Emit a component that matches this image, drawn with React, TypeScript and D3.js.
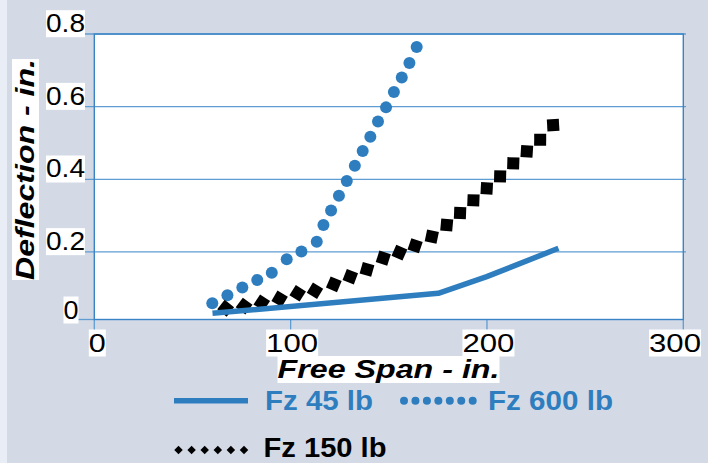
import React, { useEffect, useRef } from "react";
import * as d3 from "d3";

// ---- data ----
const spanTicks = [0, 100, 200, 300];
const deflTicks = [0, 0.2, 0.4, 0.6, 0.8];
const deflTickLabels = ["0", "0.2", "0.4", "0.6", "0.8"];

// Fz 45 lb (solid line)
const fz45Span = [60.2, 175.2, 199.9, 236.4];
const fz45Defl = [0.031, 0.086, 0.132, 0.21];

// Fz 600 lb (round dots)
const fz600Span = [60.1, 67.8, 75.4, 83.0, 90.4, 98.0, 105.5, 113.3, 116.7, 120.6, 124.6, 128.6, 132.7, 136.7, 140.6, 144.5, 148.6, 152.6, 156.6, 160.5, 164.2];
const fz600Defl = [0.059, 0.081, 0.102, 0.123, 0.143, 0.18, 0.201, 0.228, 0.274, 0.314, 0.355, 0.395, 0.437, 0.478, 0.517, 0.559, 0.598, 0.64, 0.68, 0.72, 0.764];

// Fz 150 lb (diamonds)
const fz150Span = [66.9, 76.3, 85.3, 94.4, 103.6, 112.4, 122.0, 130.4, 138.9, 147.2, 155.4, 163.4, 171.9, 179.5, 186.3, 193.1, 199.9, 206.7, 213.4, 220.3, 227.1, 233.7];
const fz150Defl = [0.045, 0.051, 0.06, 0.071, 0.086, 0.093, 0.111, 0.132, 0.152, 0.183, 0.198, 0.217, 0.242, 0.274, 0.307, 0.342, 0.375, 0.408, 0.444, 0.477, 0.509, 0.549];

const legendLabels = ["Fz 45 lb", "Fz 600 lb", "Fz 150 lb"];

const BLUE = "#2e7ebf";
const GRID = "#5f9cd2";
const BG = "#d3dae6";
const FONT = "'Liberation Sans', Arial, Helvetica, sans-serif";

export default function App() {
  const ref = useRef<SVGSVGElement | null>(null);

  useEffect(() => {
    const svg = d3.select(ref.current);
    svg.selectAll("*").remove();

    const W = 708, H = 463;
    const left = 94.3, right = 683.3, top = 34, bottom = 319.5;
    const Y_FLOOR = 0.014;
    const x = d3.scaleLinear().domain([0, 300]).range([left, right]);
    const y = d3.scaleLinear().domain([Y_FLOOR, 0.8]).range([bottom, top]);
    const yPos = (v: number) => (v === 0 ? y(Y_FLOOR) : y(v));

    svg.append("rect").attr("width", W).attr("height", H).attr("fill", BG);
    svg.append("rect").attr("width", 7).attr("height", H).attr("fill", "#e9edf6");

    // plot area
    svg.append("rect").attr("x", left).attr("y", top).attr("width", right - left).attr("height", bottom - top).attr("fill", "#fff");

    // gridlines + y ticks
    deflTicks.forEach((v) => {
      svg.append("line").attr("x1", 78).attr("x2", v === 0 ? left : 686).attr("y1", yPos(v)).attr("y2", yPos(v))
        .attr("stroke", GRID).attr("stroke-width", 1.3);
    });
    // x ticks
    spanTicks.forEach((v) => {
      svg.append("line").attr("x1", x(v)).attr("x2", x(v)).attr("y1", bottom).attr("y2", 330)
        .attr("stroke", GRID).attr("stroke-width", 1.3);
    });
    // border
    svg.append("rect").attr("x", left).attr("y", top).attr("width", right - left).attr("height", bottom - top)
      .attr("fill", "none").attr("stroke", "#3a84c5").attr("stroke-width", 1.4);

    // white-boxed text helper
    const boxed = (g: d3.Selection<SVGGElement, unknown, null, undefined>) => {
      const t = g.select<SVGTextElement>("text").node();
      if (!t) return;
      const b = t.getBBox();
      g.insert("rect", "text").attr("x", b.x).attr("y", b.y + 2).attr("width", b.width).attr("height", b.height - 3).attr("fill", "#fff");
    };

    // y labels
    deflTicks.forEach((v, i) => {
      const g = svg.append("g");
      const isZero = v === 0;
      g.append("text")
        .attr("x", isZero ? 78.5 : 85)
        .attr("y", isZero ? yPos(v) - 1 : yPos(v) - 1.8)
        .attr("text-anchor", "end")
        .attr("font-family", FONT).attr("font-size", 26)
        .attr("textLength", isZero ? 15 : 39).attr("lengthAdjust", "spacingAndGlyphs")
        .attr("fill", "#000")
        .text(deflTickLabels[i]);
      boxed(g);
    });

    // x labels
    spanTicks.forEach((v) => {
      const g = svg.append("g");
      const last = v === 300;
      g.append("text")
        .attr("x", last ? 701 : v === 0 ? x(v) + 3 : x(v) + 1.5)
        .attr("y", 351.5)
        .attr("text-anchor", last ? "end" : "middle")
        .attr("font-family", FONT).attr("font-size", 26)
        .attr("textLength", v === 0 ? 17 : 52).attr("lengthAdjust", "spacingAndGlyphs")
        .attr("fill", "#000")
        .text(String(v));
      boxed(g);
    });

    // axis titles
    {
      const g = svg.append("g").attr("transform", "translate(34,169.5) rotate(-90)");
      g.append("text").attr("x", 0).attr("y", 0).attr("text-anchor", "middle")
        .attr("font-family", FONT).attr("font-size", 26).attr("font-weight", "bold").attr("font-style", "italic")
        .attr("textLength", 221).attr("lengthAdjust", "spacingAndGlyphs")
        .text("Deflection - in.");
      boxed(g);
    }
    {
      const g = svg.append("g");
      g.append("text").attr("x", 388.5).attr("y", 378).attr("text-anchor", "middle")
        .attr("font-family", FONT).attr("font-size", 26).attr("font-weight", "bold").attr("font-style", "italic")
        .attr("textLength", 222).attr("lengthAdjust", "spacingAndGlyphs")
        .text("Free Span - in.");
      boxed(g);
    }

    const plot = svg.append("g");

    // Fz 600 dots
    plot.selectAll("circle.d600").data(fz600Span.map((s, i) => [s, fz600Defl[i]]))
      .join("circle").attr("class", "d600")
      .attr("cx", (d) => x(d[0])).attr("cy", (d) => y(d[1])).attr("r", 6).attr("fill", BLUE);

    // Fz 150 diamonds (squares oriented to local tangent)
    const pts150 = fz150Span.map((s, i) => [x(s), y(fz150Defl[i])]);
    const side = 12;
    pts150.forEach((p, i) => {
      const a = pts150[Math.max(0, i - 1)];
      const b = pts150[Math.min(pts150.length - 1, i + 1)];
      const ang = (Math.atan2(b[1] - a[1], b[0] - a[0]) * 180) / Math.PI + 45;
      plot.append("rect").attr("x", -side / 2).attr("y", -side / 2).attr("width", side).attr("height", side)
        .attr("fill", "#000")
        .attr("transform", `translate(${p[0]},${p[1]}) rotate(${ang})`);
    });

    // Fz 45 line
    const line = d3.line<number>().x((s) => x(s)).y((_, i) => y(fz45Defl[i]));
    plot.append("path").attr("d", line(fz45Span) || "").attr("fill", "none").attr("stroke", BLUE)
      .attr("stroke-width", 5.5).attr("stroke-linejoin", "round");

    // legend
    const lg = svg.append("g");
    lg.append("line").attr("x1", 174).attr("x2", 248).attr("y1", 400.7).attr("y2", 400.7).attr("stroke", BLUE).attr("stroke-width", 5.5);
    lg.append("text").attr("x", 265).attr("y", 410).attr("font-family", FONT).attr("font-size", 27).attr("font-weight", "bold")
      .attr("fill", BLUE).attr("textLength", 108).attr("lengthAdjust", "spacingAndGlyphs").text(legendLabels[0]);

    d3.range(7).forEach((k) => {
      lg.append("circle").attr("cx", 404 + k * 11.45).attr("cy", 400.7).attr("r", 4).attr("fill", BLUE);
    });
    lg.append("text").attr("x", 488).attr("y", 410).attr("font-family", FONT).attr("font-size", 27).attr("font-weight", "bold")
      .attr("fill", BLUE).attr("textLength", 125).attr("lengthAdjust", "spacingAndGlyphs").text(legendLabels[1]);

    d3.range(6).forEach((k) => {
      const cx = 178.5 + k * 13.1;
      lg.append("rect").attr("x", -3).attr("y", -3).attr("width", 6).attr("height", 6).attr("fill", "#000")
        .attr("transform", `translate(${cx},450) rotate(45)`);
    });
    lg.append("text").attr("x", 263.5).attr("y", 456.5).attr("font-family", FONT).attr("font-size", 27).attr("font-weight", "bold")
      .attr("fill", "#000").attr("textLength", 123).attr("lengthAdjust", "spacingAndGlyphs").text(legendLabels[2]);
  }, []);

  return (
    <svg ref={ref} width={708} height={463} style={{ position: "fixed", left: 0, top: 0, display: "block" }} />
  );
}
